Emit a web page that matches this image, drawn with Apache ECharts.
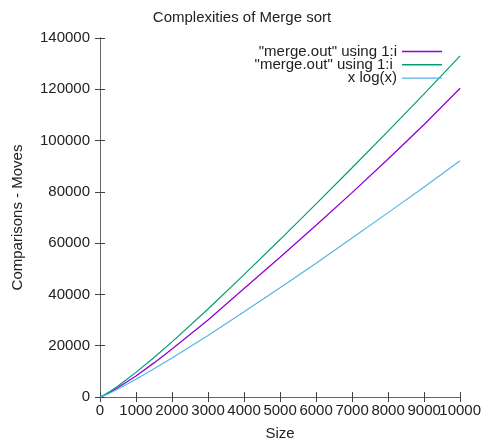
<!DOCTYPE html>
<html>
<head>
<meta charset="utf-8">
<script src="https://cdn.jsdelivr.net/npm/echarts@6/dist/echarts.min.js"></script>
<style>html,body{margin:0;padding:0;background:#fff}#c{width:484px;height:446px}</style>
</head>
<body>
<div id="c"></div>
<script>
var sizes =        [0, 100, 250, 500, 1000, 1500, 2000, 3000, 4000, 5000, 6000, 7000, 8000, 9000, 10000];
var comparisons =  [0, 550, 1600, 3700, 8200, 13300, 18700, 30000, 42300, 54500, 67000, 79700, 92800, 106300, 120400];
var moves =        [0, 650, 1900, 4300, 9600, 15400, 21500, 34300, 47700, 61400, 75300, 89400, 103700, 118200, 133000];
var xlogx =        [0, 460, 1380, 3100, 6900, 11000, 15200, 24000, 33200, 42600, 52200, 62000, 71900, 81900, 92100];
var seriesNames = ['"merge.out" using 1:i', '"merge.out" using 1:i ', 'x log(x)'];
var colors = ['#9400d3', '#009e73', '#56b4e9'];
var xMax = 10000;

function pairs(ys){ return sizes.map(function(x,i){ return [x, ys[i]]; }); }
function plain(v){ return String(v); }
function allButMax(v){ return v === xMax ? '' : String(v); }
function onlyMax(v){ return v === xMax ? String(v) : ''; }

var font = 'Liberation Sans, Arial, sans-serif';
var axisLine = {show:true, lineStyle:{color:'#666', width:1}};
var tick = {show:true, inside:true, length:5, lineStyle:{color:'#444'}};
var lineIcon = 'path://M0,0L0.01,0M0,6.3L40,6.3L40,7.7L0,7.7ZM0,14L0.01,14';
var chart = echarts.init(document.getElementById('c'), null, {renderer:'canvas'});
chart.setOption({
  animation:false,
  backgroundColor:'#fff',
  title:{text:'Complexities of Merge sort', left:'center', top:5, textStyle:{fontFamily:font, fontSize:15, fontWeight:'normal', color:'#222'}},
  grid:{left:100, right:21, top:38, bottom:44},
  legend:{orient:'vertical', right:37, top:39, align:'right', itemWidth:40, itemHeight:14, itemGap:-1.7,
    icon:lineIcon,
    data:seriesNames,
    textStyle:{fontFamily:font, fontSize:15, color:'#222', lineHeight:14}},
  xAxis:[
    {type:'value', min:0, max:xMax, interval:1000, name:'Size', nameLocation:'middle', nameGap:29,
     nameTextStyle:{fontFamily:font, fontSize:15, color:'#222'},
     axisLine:axisLine, axisTick:tick,
     axisLabel:{fontFamily:font, fontSize:15, color:'#222', margin:6, formatter:allButMax}, splitLine:{show:false}},
    {type:'value', position:'top', min:0, max:xMax, interval:1000,
     axisLine:axisLine, axisTick:tick,
     axisLabel:{show:false}, splitLine:{show:false}},
    {type:'value', position:'bottom', min:0, max:xMax, interval:1000,
     axisLine:{show:false}, axisTick:{show:false},
     axisLabel:{fontFamily:font, fontSize:15, color:'#222', margin:6, formatter:onlyMax}, splitLine:{show:false}}
  ],
  yAxis:[
    {type:'value', min:0, max:140000, interval:20000, name:'Comparisons - Moves', nameLocation:'middle', nameGap:75,
     nameTextStyle:{fontFamily:font, fontSize:15, color:'#222'},
     axisLine:axisLine, axisTick:tick,
     axisLabel:{fontFamily:font, fontSize:15, color:'#222', margin:10, formatter:plain}, splitLine:{show:false}},
    {type:'value', position:'right', min:0, max:140000, interval:20000,
     axisLine:axisLine, axisTick:tick,
     axisLabel:{show:false}, splitLine:{show:false}}
  ],
  series:[
    {name:seriesNames[0], type:'line', data:pairs(comparisons), symbol:'none', color:colors[0], lineStyle:{width:1.3, color:colors[0]}},
    {name:seriesNames[1], type:'line', data:pairs(moves), symbol:'none', color:colors[1], lineStyle:{width:1.2, color:colors[1]}},
    {name:seriesNames[2], type:'line', data:pairs(xlogx), symbol:'none', color:colors[2], lineStyle:{width:1.2, color:colors[2]}}
  ]
});
</script>
</body>
</html>
